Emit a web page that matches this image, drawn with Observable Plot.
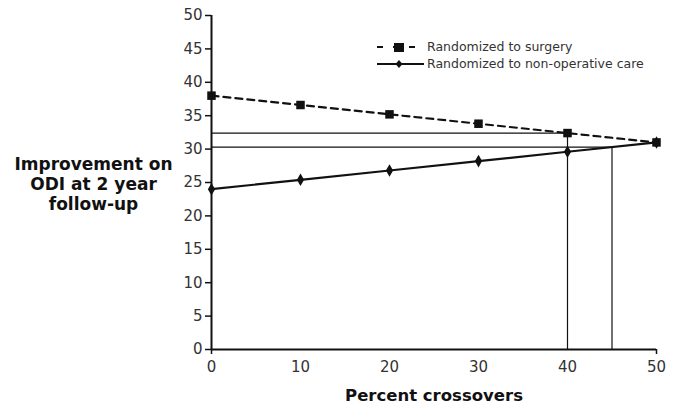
<!DOCTYPE html>
<html>
<head>
<meta charset="utf-8">
<script src="https://cdn.jsdelivr.net/npm/d3@7"></script>
<script src="https://cdn.jsdelivr.net/npm/@observablehq/plot@0.6"></script>
<style>
  body { margin: 0; background: #fff; }
  #wrap { position: relative; width: 678px; height: 410px; font-family: "DejaVu Sans", Verdana, sans-serif; }
  #legend { position: absolute; left: 377px; top: 38px; font-size: 12.5px; color: #333; }
  #legend div { display: flex; align-items: center; height: 17px; }
  #legend svg { margin-right: 3px; }
</style>
</head>
<body>
<div id="wrap"></div>
<script>
const crossovers = [0, 10, 20, 30, 40, 50];
const surgery = [38, 36.6, 35.2, 33.8, 32.4, 31];
const nonOperative = [24, 25.4, 26.8, 28.2, 29.6, 31];
const seriesNames = ["Randomized to surgery", "Randomized to non-operative care"];
const xTicks = [0, 10, 20, 30, 40, 50];
const yTicks = [0, 5, 10, 15, 20, 25, 30, 35, 40, 45, 50];
// reference (crossover) lines: [crossover %, improvement]
const refPoints = [[40, 32.4], [45, 30.3]];
const yLabel = "Improvement on\nODI at 2 year\nfollow-up";
const xLabel = "Percent crossovers";

const surgData = crossovers.map((x, i) => ({x, y: surgery[i]}));
const nonData = crossovers.map((x, i) => ({x, y: nonOperative[i]}));
const refs = refPoints.map(([x, y]) => ({x, y}));

const plot = Plot.plot({
  width: 678,
  height: 410,
  marginLeft: 211,
  marginRight: 22,
  marginTop: 15,
  marginBottom: 61,
  style: {fontFamily: "DejaVu Sans, Verdana, sans-serif", fontSize: "15px", color: "#333", background: "#fff"},
  x: {domain: [0, 50]},
  y: {domain: [0, 50]},
  marks: [
    Plot.axisY({ticks: yTicks, tickSize: 6, tickPadding: 3, label: null, fontSize: 15, stroke: "#111", strokeWidth: 1.5}),
    Plot.axisX({ticks: xTicks, tickSize: 0, tickPadding: 12, label: null, fontSize: 15}),
    Plot.axisX({ticks: [0, 50], tickSize: 5, text: null, label: null, stroke: "#111", strokeWidth: 1.5}),
    // reference lines
    Plot.ruleY(refs, {y: "y", x1: 0, x2: "x", stroke: "#111", strokeWidth: 1.2}),
    Plot.ruleX(refs, {x: "x", y1: 0, y2: "y", stroke: "#111", strokeWidth: 1.2}),
    // axes lines
    Plot.ruleX([0], {stroke: "#111", strokeWidth: 2}),
    Plot.ruleY([0], {stroke: "#111", strokeWidth: 2}),
    // series
    Plot.line(surgData, {x: "x", y: "y", stroke: "#111", strokeWidth: 2.2, strokeDasharray: "7,5"}),
    Plot.dot(surgData, {x: "x", y: "y", symbol: "square", r: 4.8, fill: "#111", stroke: null}),
    Plot.line(nonData, {x: "x", y: "y", stroke: "#111", strokeWidth: 2.2}),
    Plot.dot(nonData, {x: "x", y: "y", symbol: "diamond", r: 3.8, fill: "#111", stroke: null}),
    // labels
    Plot.text([yLabel], {frameAnchor: "left", dx: -118, dy: 1, text: d => d, textAnchor: "middle", lineHeight: 1.18, fontSize: 17, fontWeight: "bold", fill: "#111"}),
    Plot.text([xLabel], {frameAnchor: "bottom", dy: 51, text: d => d, textAnchor: "middle", fontSize: 16.5, fontWeight: "bold", fill: "#111"})
  ]
});

const wrap = document.getElementById("wrap");
wrap.appendChild(plot);

const legend = document.createElement("div");
legend.id = "legend";
legend.innerHTML = `
  <div><svg width="47" height="12"><line x1="0" y1="6" x2="47" y2="6" stroke="#111" stroke-width="2.2" stroke-dasharray="6,10"/><rect x="17" y="2" width="10" height="9" fill="#111"/></svg><span>${seriesNames[0]}</span></div>
  <div><svg width="47" height="12"><line x1="0" y1="6" x2="47" y2="6" stroke="#111" stroke-width="2"/><path d="M22,2 L25.5,6 L22,10 L18.5,6Z" fill="#111"/></svg><span>${seriesNames[1]}</span></div>`;
wrap.appendChild(legend);
</script>
</body>
</html>
